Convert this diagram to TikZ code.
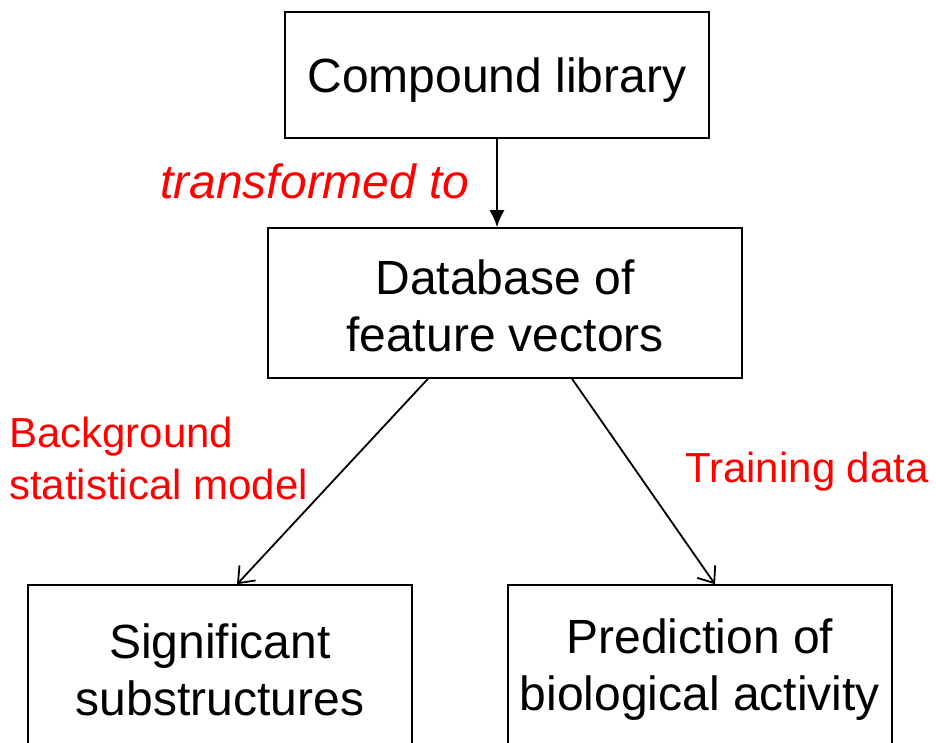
\documentclass[tikz,border=0pt]{standalone}
\usepackage{fontspec}
\setmainfont{Liberation Sans}
\usetikzlibrary{positioning, arrows.meta}
\definecolor{labelred}{RGB}{255,0,0}
\tikzset{
  stepbox/.style={draw, line width=1.5pt, align=center, inner sep=0,
    font=\fontsize{48}{57}\selectfont},
  redlabel/.style={color=labelred, inner sep=0, align=left,
    font=\fontsize{42}{52}\selectfont},
  flow/.style={line width=1.8pt}
}
\begin{document}
\begin{tikzpicture}[x=1pt,y=-1pt]
\useasboundingbox (0,0) rectangle (936,743);

\node [stepbox, minimum width=424pt, minimum height=126pt, text depth=0pt] (lib) at (497,75) {Compound library};
\node [stepbox, minimum width=474pt, minimum height=150pt] (db) at (505,303) {\strut Database of\\feature vectors};
\node [stepbox, minimum width=384pt, minimum height=170pt] (sig) at (220,670) {Significant\\substructures};
\node [stepbox, minimum width=384pt, minimum height=170pt] (pred) at (700,670) {Prediction of\\biological activity};

%\draw[flow,-latex] (lib) -- (db);
\draw[flow,-{Latex[length=17pt,width=15pt]}] (lib.south) -- (lib.south |- db.north);
\draw[flow,-{Straight Barb[length=14pt,width=22pt]}] ([xshift=-77pt]db.south) -- ([xshift=17pt]sig.north);
\draw[flow,-{Straight Barb[length=14pt,width=22pt]}] ([xshift=67pt]db.south) -- ([xshift=15pt]pred.north);

\node [redlabel, font=\fontsize{48}{57}\selectfont\itshape] (trans) at (315,181) {transformed to};
\node [redlabel, anchor=west] (bg) at (9,458) {Background\\statistical model};
\node [redlabel] (train) at (807,472) {Training data};

\end{tikzpicture}
\end{document}
